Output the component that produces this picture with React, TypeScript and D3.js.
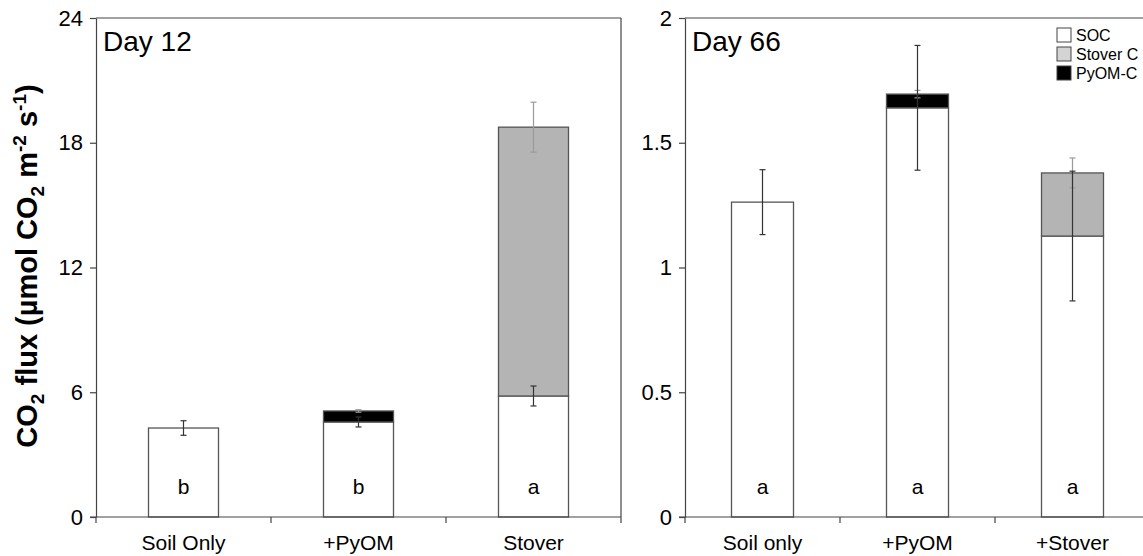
import React, { useEffect, useRef } from 'react';
import * as d3 from 'd3';

// Day 12 panel
const day12Categories = ['Soil Only', '+PyOM', 'Stover'];
const day12Soc = [4.28, 4.57, 5.82];
const day12Stover = [0, 0, 12.93];
const day12Pyom = [0, 0.53, 0];
const day12SocErr = [0.35, 0.24, 0.48];
const day12TotalErr = [0, 0.06, 1.2];
const day12Letters = ['b', 'b', 'a'];
const day12Ticks = [0, 6, 12, 18, 24];

// Day 66 panel
const day66Categories = ['Soil only', '+PyOM', '+Stover'];
const day66Soc = [1.262, 1.64, 1.126];
const day66Stover = [0, 0, 0.253];
const day66Pyom = [0, 0.055, 0];
const day66SocErr = [0.13, 0.25, 0.26];
const day66TotalErr = [0, 0.015, 0.06];
const day66Letters = ['a', 'a', 'a'];
const day66Ticks = [0, 0.5, 1, 1.5, 2];

const legendItems = [
  { label: 'SOC', fill: '#ffffff' },
  { label: 'Stover C', fill: '#d4d4d4' },
  { label: 'PyOM-C', fill: '#000000' },
];

const FONT = 'Arial, "Liberation Sans", Helvetica, sans-serif';
const AXIS = '#444';

interface PanelData {
  title: string;
  categories: string[];
  soc: number[];
  stover: number[];
  pyom: number[];
  socErr: number[];
  totalErr: number[];
  letters: string[];
  ticks: number[];
  max: number;
  x0: number;
  x1: number;
}

export default function App() {
  const svgRef = useRef<SVGSVGElement>(null);

  useEffect(() => {
    if (!svgRef.current) return;
    const svg = d3.select(svgRef.current);
    svg.selectAll('*').remove();

    const top = 18;
    const bottom = 517;

    const panels: PanelData[] = [
      {
        title: 'Day 12', categories: day12Categories, soc: day12Soc, stover: day12Stover,
        pyom: day12Pyom, socErr: day12SocErr, totalErr: day12TotalErr, letters: day12Letters,
        ticks: day12Ticks, max: 24, x0: 96, x1: 621,
      },
      {
        title: 'Day 66', categories: day66Categories, soc: day66Soc, stover: day66Stover,
        pyom: day66Pyom, socErr: day66SocErr, totalErr: day66TotalErr, letters: day66Letters,
        ticks: day66Ticks, max: 2, x0: 685, x1: 1150,
      },
    ];

    panels.forEach(p => {
      const g = svg.append('g');
      const x = d3.scaleBand<string>().domain(p.categories).range([p.x0, p.x1]).paddingInner(0.6).paddingOuter(0.3);
      const y = d3.scaleLinear().domain([0, p.max]).range([bottom, top]);

      // frame (top and right)
      g.append('line').attr('x1', p.x0).attr('x2', p.x1).attr('y1', top).attr('y2', top)
        .attr('stroke', AXIS).attr('stroke-width', 1.2);
      g.append('line').attr('x1', p.x1).attr('x2', p.x1).attr('y1', top).attr('y2', bottom)
        .attr('stroke', AXIS).attr('stroke-width', 1.2);

      // stacked bars
      p.categories.forEach((c, i) => {
        const bx = x(c)!;
        const bw = x.bandwidth();
        const segs = [
          { v0: 0, v1: p.soc[i], fill: '#ffffff' },
          { v0: p.soc[i], v1: p.soc[i] + p.stover[i], fill: '#b4b4b4' },
          { v0: p.soc[i] + p.stover[i], v1: p.soc[i] + p.stover[i] + p.pyom[i], fill: '#000000' },
        ].filter(s => s.v1 > s.v0);
        segs.forEach(s => {
          g.append('rect')
            .attr('x', bx).attr('width', bw)
            .attr('y', y(s.v1)).attr('height', y(s.v0) - y(s.v1))
            .attr('fill', s.fill).attr('stroke', '#555').attr('stroke-width', 1.3);
        });

        const cx = bx + bw / 2;
        const total = p.soc[i] + p.stover[i] + p.pyom[i];
        const drawErr = (v: number, e: number, color: string) => {
          if (e <= 0) return;
          g.append('line').attr('x1', cx).attr('x2', cx).attr('y1', y(v + e)).attr('y2', y(v - e))
            .attr('stroke', color).attr('stroke-width', 1.2);
          [v + e, v - e].forEach(val => {
            g.append('line').attr('x1', cx - 3).attr('x2', cx + 3).attr('y1', y(val)).attr('y2', y(val))
              .attr('stroke', color).attr('stroke-width', 1.2);
          });
        };
        drawErr(total, p.totalErr[i], '#9a9a9a');
        drawErr(p.soc[i], p.socErr[i], '#333');

        g.append('text').attr('x', cx).attr('y', 494)
          .attr('text-anchor', 'middle').attr('font-family', FONT).attr('font-size', 21)
          .attr('fill', '#000').text(p.letters[i]);
      });

      // y axis
      const yAxis = g.append('g').attr('transform', `translate(${p.x0},0)`)
        .call(d3.axisLeft(y).tickValues(p.ticks).tickSize(6).tickSizeOuter(0).tickPadding(7).tickFormat(d => String(d)));
      yAxis.select('.domain').attr('stroke', AXIS).attr('stroke-width', 1.2);
      yAxis.selectAll('.tick line').attr('stroke', AXIS).attr('stroke-width', 1.2);
      yAxis.selectAll('.tick text').attr('font-family', FONT).attr('font-size', 22).attr('fill', '#000');

      // x axis with ticks at category boundaries
      g.append('line').attr('x1', p.x0 - 6).attr('x2', p.x1).attr('y1', bottom).attr('y2', bottom)
        .attr('stroke', AXIS).attr('stroke-width', 1.2);
      const n = p.categories.length;
      d3.range(n + 1).map(k => p.x0 + k * (p.x1 - p.x0) / n).forEach(bx => {
        g.append('line').attr('x1', bx).attr('x2', bx).attr('y1', bottom).attr('y2', bottom + 6)
          .attr('stroke', AXIS).attr('stroke-width', 1.2);
      });
      p.categories.forEach(c => {
        g.append('text').attr('x', x(c)! + x.bandwidth() / 2).attr('y', 550)
          .attr('text-anchor', 'middle').attr('font-family', FONT).attr('font-size', 21)
          .attr('fill', '#000').text(c);
      });

      // panel title
      g.append('text').attr('x', p.x0 + 7).attr('y', 51)
        .attr('font-family', FONT).attr('font-size', 28).attr('fill', '#000').text(p.title);
    });

    // legend
    const leg = svg.append('g').attr('transform', 'translate(1057,28)');
    legendItems.forEach((item, i) => {
      leg.append('rect').attr('x', 0).attr('y', i * 19).attr('width', 14).attr('height', 14)
        .attr('fill', item.fill).attr('stroke', '#444').attr('stroke-width', 1);
      leg.append('text').attr('x', 19).attr('y', i * 19 + 13)
        .attr('font-family', FONT).attr('font-size', 16).attr('fill', '#000').text(item.label);
    });

    // y axis title
    const yt = svg.append('text')
      .attr('transform', 'translate(37,266) rotate(-90)')
      .attr('text-anchor', 'middle')
      .attr('font-family', FONT).attr('font-size', 29).attr('font-weight', 'bold').attr('fill', '#000');
    yt.append('tspan').text('CO');
    yt.append('tspan').attr('font-size', 19).attr('dy', 7).text('2');
    yt.append('tspan').attr('dy', -7).text(' flux (µmol CO');
    yt.append('tspan').attr('font-size', 19).attr('dy', 7).text('2');
    yt.append('tspan').attr('dy', -7).text(' m');
    yt.append('tspan').attr('font-size', 19).attr('dy', -11).text('-2');
    yt.append('tspan').attr('dy', 11).text(' s');
    yt.append('tspan').attr('font-size', 19).attr('dy', -11).text('-1');
    yt.append('tspan').attr('dy', 11).text(')');
  }, []);

  return (
    <svg
      ref={svgRef}
      width={1143}
      height={556}
      style={{ position: 'absolute', left: 0, top: 0, background: '#fff' }}
    />
  );
}
